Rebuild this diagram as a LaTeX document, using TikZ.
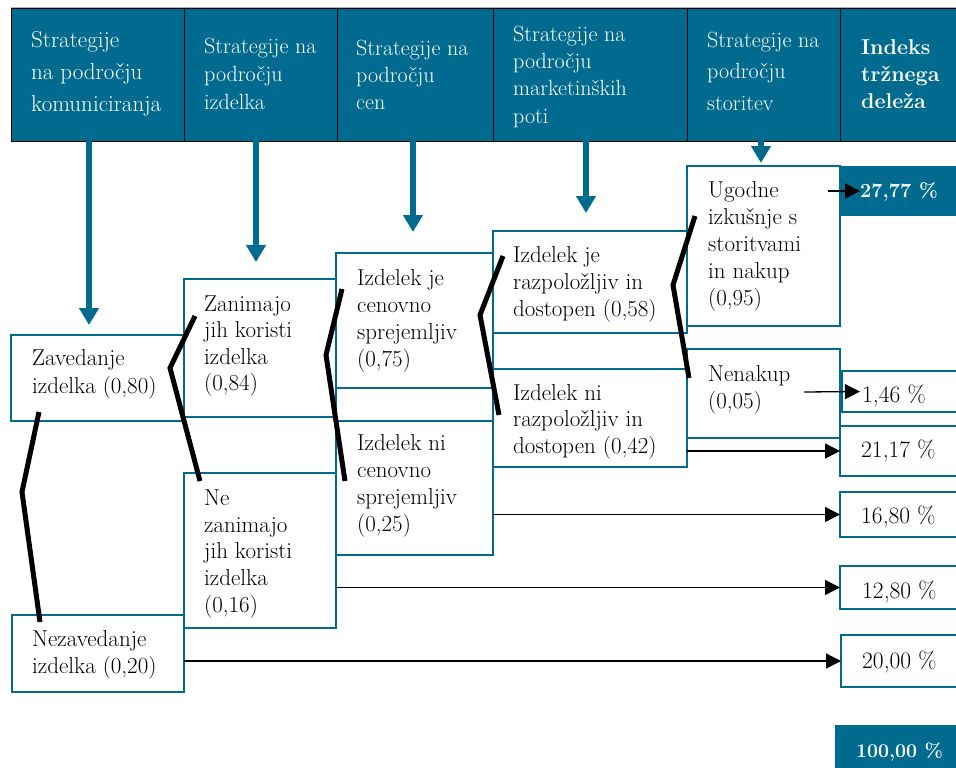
\documentclass[tikz,border=0pt]{standalone}
\usetikzlibrary{arrows.meta}
\definecolor{petrol}{RGB}{0,107,143}
\newcommand{\topstrut}{\rule{0pt}{20pt}}

\begin{document}
\begin{tikzpicture}[x=1pt,y=-1pt,
  hdr/.style={fill=petrol, draw=black, line width=1pt, anchor=north west, inner sep=0pt, outer sep=0pt},
  cell/.style={draw=petrol, line width=1.6pt, anchor=north west, inner sep=0pt, outer sep=0pt},
  solid cell/.style={fill=petrol, anchor=north west, inner sep=0pt, outer sep=0pt},
  htxt/.style={anchor=north west, inner sep=0pt, align=left, text=white, font=\fontsize{22}{27}\selectfont},
  btxt/.style={anchor=north west, inner sep=0pt, align=left, font=\fontsize{23}{27}\selectfont},
  rtxt/.style={anchor=base west, inner sep=0pt, font=\fontsize{23.5}{26}\selectfont},
  rbold/.style={anchor=base west, inner sep=0pt, text=white, font=\fontsize{20}{24}\selectfont\bfseries},
  down/.style={draw=petrol, line width=6pt, -{Triangle[length=17pt,width=19pt]}},
  link/.style={draw=black, line width=1.3pt, -{Triangle[length=15pt,width=15pt]}},
  branch/.style={draw=black, line width=5pt, line join=miter}
]
\useasboundingbox (0,0) rectangle (956,768);
\fill[white] (0,0) rectangle (956,768);

% header row
\draw[gray!60, line width=1pt] (11,7.5) -- (956,7.5);
\node[hdr, minimum width=173pt, minimum height=132pt] (h1) at (11,9) {};
\node[hdr, minimum width=153pt, minimum height=132pt] (h2) at (184,9) {};
\node[hdr, minimum width=156pt, minimum height=132pt] (h3) at (337,9) {};
\node[hdr, minimum width=194pt, minimum height=132pt] (h4) at (493,9) {};
\node[hdr, minimum width=153pt, minimum height=132pt] (h5) at (687,9) {};
\node[hdr, minimum width=130pt, minimum height=132pt] (h6) at (840,9) {};

\node[htxt, font=\fontsize{23}{32}\selectfont] (h1t) at (31,27) {\topstrut Strategije\\na področju\\komuniciranja};
\node[htxt, font=\fontsize{22}{28}\selectfont] (h2t) at (204,33) {\topstrut Strategije na\\področju\\izdelka};
\node[htxt] (h3t) at (356,35) {\topstrut Strategije na\\področju\\cen};
\node[htxt, font=\fontsize{22}{27.3}\selectfont] (h4t) at (513,21) {\topstrut Strategije na\\področju\\marketinških\\poti};
\node[htxt, font=\fontsize{22}{31.5}\selectfont] (h5t) at (707,27) {\topstrut Strategije na\\področju\\storitev};
\node[htxt, font=\fontsize{21.5}{27}\selectfont\bfseries] (h6t) at (861,34) {\topstrut Indeks\\tržnega\\deleža};

% decision boxes
\node[cell, minimum width=173pt, minimum height=86pt]  (zav)    at (11,335)  {};
\node[cell, minimum width=172pt, minimum height=77pt]  (nezav)  at (12,615)  {};
\node[cell, minimum width=152pt, minimum height=138pt] (zan)    at (184,279) {};
\node[cell, minimum width=152pt, minimum height=155pt] (nezan)  at (184,473) {};
\node[cell, minimum width=157pt, minimum height=135pt] (cen)    at (336,253) {};
\node[cell, minimum width=157pt, minimum height=134pt] (necen)  at (336,421) {};
\node[cell, minimum width=194pt, minimum height=102pt] (razp)   at (493,231) {};
\node[cell, minimum width=194pt, minimum height=98pt]  (nirazp) at (493,369) {};
\node[cell, minimum width=153pt, minimum height=160pt] (ugod)   at (687,166) {};
\node[cell, minimum width=153pt, minimum height=89pt]  (nenak)  at (687,349) {};

\node[btxt, font=\fontsize{23}{28}\selectfont] (zavt) at (32,345) {\topstrut Zavedanje\\izdelka (0,80)};
\node[btxt] (nezavt) at (32,626) {\topstrut Nezavedanje\\izdelka (0,20)};
\node[btxt, font=\fontsize{23}{26.4}\selectfont] (zant) at (204,291) {\topstrut Zanimajo\\jih koristi\\izdelka\\(0,84)};
\node[btxt, font=\fontsize{23}{26.8}\selectfont] (nezant) at (204,485) {\topstrut Ne\\zanimajo\\jih koristi\\izdelka\\(0,16)};
\node[btxt] (cent) at (357,265) {\topstrut Izdelek je\\cenovno\\sprejemljiv\\(0,75)};
\node[btxt] (necent) at (357,430) {\topstrut Izdelek ni\\cenovno\\sprejemljiv\\(0,25)};
\node[btxt] (razpt) at (513,242) {\topstrut Izdelek je\\razpoložljiv in\\dostopen (0,58)};
\node[btxt, font=\fontsize{23}{26.5}\selectfont] (nirazpt) at (513,380) {\topstrut Izdelek ni\\razpoložljiv in\\dostopen (0,42)};
\node[btxt] (ugodt) at (708,177) {\topstrut Ugodne\\izkušnje s\\storitvami\\in nakup\\(0,95)};
\node[btxt] (nenakt) at (708,361) {\topstrut Nenakup\\(0,05)};

% market share results
\node[solid cell, minimum width=118pt, minimum height=50pt] (r1) at (840,166) {};
\node[cell, minimum width=116pt, minimum height=41pt] (r2) at (842,371) {};
\node[cell, minimum width=118pt, minimum height=50pt] (r3) at (840,426) {};
\node[cell, minimum width=118pt, minimum height=45pt] (r4) at (840,492) {};
\node[cell, minimum width=118pt, minimum height=43pt] (r5) at (840,566) {};
\node[cell, minimum width=117pt, minimum height=52pt] (r6) at (841,635) {};
\node[solid cell, minimum width=123pt, minimum height=46pt] (r7) at (835,725) {};

\node[rbold] (r1t) at (860,197) {27,77 \%};
\node[rtxt] (r2t) at (862,402) {1,46 \%};
\node[rtxt] (r3t) at (861,457) {21,17 \%};
\node[rtxt] (r4t) at (861,523) {16,80 \%};
\node[rtxt] (r5t) at (862,598) {12,80 \%};
\node[rtxt] (r6t) at (862,668) {20,00 \%};
\node[rbold, font=\fontsize{19.5}{24}\selectfont\bfseries] (r7t) at (856,757) {100,00 \%};

% arrows from the strategy headers
\coordinate (d1) at (89,325);
\coordinate (d2) at (256,262);
\coordinate (d3) at (413,232);
\coordinate (d4) at (586,213);
\coordinate (d5) at (761,163);
\draw[down] (h1.south -| d1) -- (d1);
\draw[down] (h2.south -| d2) -- (d2);
\draw[down] (h3.south -| d3) -- (d3);
\draw[down] (h4.south -| d4) -- (d4);
\draw[down] (h5.south -| d5) -- (d5);

% branches between alternative outcomes
\coordinate (b1a) at (39,412);  \coordinate (b1b) at (22,492);  \coordinate (b1c) at (40,622);
\coordinate (b2a) at (195,316); \coordinate (b2b) at (170,368); \coordinate (b2c) at (200,481);
\coordinate (b3a) at (342,289); \coordinate (b3b) at (326,355); \coordinate (b3c) at (345,481);
\coordinate (b4a) at (503,256); \coordinate (b4b) at (480,315); \coordinate (b4c) at (499,415);
\coordinate (b5a) at (695,216); \coordinate (b5b) at (673,285); \coordinate (b5c) at (689,378);
\draw[branch] (b1a) -- (b1b) -- (b1c);
\draw[branch] (b2a) -- (b2b) -- (b2c);
\draw[branch] (b3a) -- (b3b) -- (b3c);
\draw[branch] (b4a) -- (b4b) -- (b4c);
\draw[branch] (b5a) -- (b5b) -- (b5c);

% links to the resulting shares
\coordinate (u1) at (828,191);
\coordinate (u2) at (804,392);
\draw[link] (u1) -- ([xshift=20pt]r1.west);
\draw[link] (u2) -- ([xshift=18pt]r2.west);
\draw[link] (nirazp.east |- r3.west) -- (r3.west);
\draw[link] (necen.east |- r4.west) -- (r4.west);
\draw[link] (nezan.east |- r5.west) -- (r5.west);
\draw[link] (nezav.east |- r6.west) -- (r6.west);
\end{tikzpicture}
\end{document}
